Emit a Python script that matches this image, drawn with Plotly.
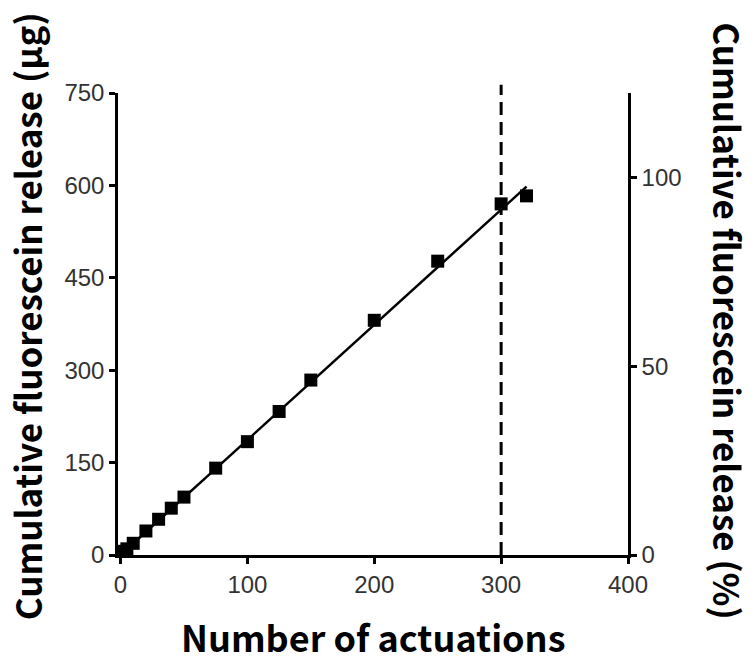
import plotly.graph_objects as go

# Data
actuations = [0, 1, 2, 3, 5, 10, 20, 30, 40, 50, 75, 100, 125, 150, 200, 250, 300, 320]
release_ug = [0, 2, 4, 6, 10, 19, 39, 58, 76, 94, 141, 184, 233, 284, 381, 477, 570, 583]
fit_x = [0, 320]
fit_y = [0, 598]
cutoff_x = 300

x_ticks = [0, 100, 200, 300, 400]
y_ticks = [0, 150, 300, 450, 600, 750]
y2_ticks = [0, 50, 100]

vtitle_font = dict(family="Noto Sans CJK KR", size=35, color="black", weight="bold")
xtitle_font = dict(family="Noto Sans CJK KR", size=36, color="black", weight="bold")
tick_font = dict(family="Liberation Sans", size=24, color="#333333")

fig = go.Figure()
fig.add_trace(go.Scatter(x=fit_x, y=fit_y, mode="lines",
                         line=dict(color="black", width=2.5), showlegend=False))
fig.add_trace(go.Scatter(x=actuations, y=release_ug, mode="markers",
                         marker=dict(symbol="square", size=13, color="black"),
                         showlegend=False))
# invisible trace to activate right axis
fig.add_trace(go.Scatter(x=[0], y=[0], yaxis="y2", mode="markers",
                         marker=dict(opacity=0), showlegend=False, hoverinfo="skip"))

fig.add_shape(type="line", xref="x", yref="paper", x0=cutoff_x, x1=cutoff_x,
              y0=0, y1=1.018, line=dict(color="black", width=3, dash="13px,7px"))

axis_common = dict(showgrid=False, zeroline=False, showline=True, linecolor="black",
                   linewidth=2.5, ticks="outside", ticklen=6, tickwidth=2.5,
                   tickcolor="black", tickfont=tick_font)

fig.update_layout(
    width=755, height=663,
    margin=dict(l=118, r=127, t=93, b=108),
    paper_bgcolor="white", plot_bgcolor="white",
    xaxis=dict(range=[-2, 400], tickvals=x_ticks, **axis_common),
    yaxis=dict(range=[0, 750], tickvals=y_ticks, **axis_common),
    yaxis2=dict(range=[0, 122.5], tickvals=y2_ticks, overlaying="y", side="right",
                anchor="x", **axis_common),
    annotations=[
        dict(text="Number of actuations", xref="paper", yref="paper",
             x=0.5, y=-0.175, xanchor="center", yanchor="middle",
             showarrow=False, font=xtitle_font),
        dict(text="Cumulative fluorescein release (µg)", xref="paper", yref="paper",
             x=-0.180, y=0.517, textangle=-90, xanchor="center", yanchor="middle",
             showarrow=False, font=vtitle_font),
        dict(text="Cumulative fluorescein release (%)", xref="paper", yref="paper",
             x=1.198, y=0.506, textangle=90, xanchor="center", yanchor="middle",
             showarrow=False, font=vtitle_font),
    ],
)

fig.write_html("out.html")
